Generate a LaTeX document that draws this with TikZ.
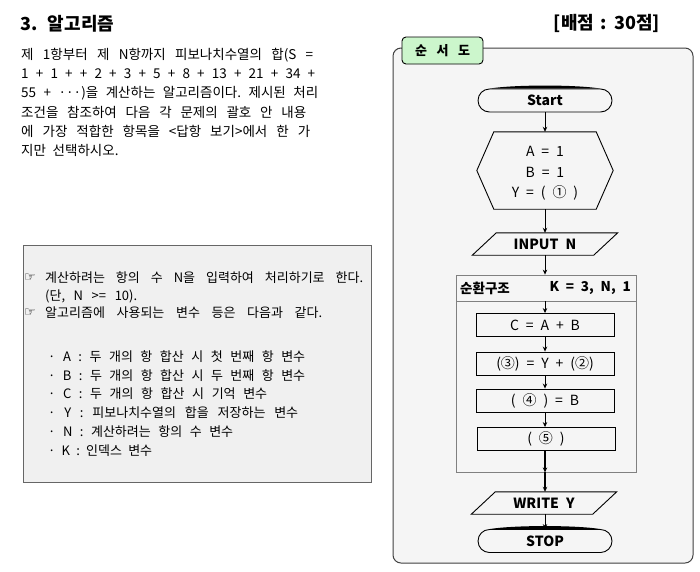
\documentclass[tikz,border=0pt]{standalone}
\usepackage{fontspec}
\setmainfont{Noto Sans CJK KR}[WordSpace=2.2]
\newfontfamily\symf{DejaVu Sans}
\usetikzlibrary{arrows.meta}
\newcommand\fsz[1]{\fontsize{#1}{#1}\selectfont}
\newcommand\jl[2]{\hbox to #1pt{\frenchspacing\spaceskip=0.25em plus 1fil\relax #2}}
\definecolor{tabgreen}{RGB}{204,246,204}
\begin{document}
\begin{tikzpicture}[x=1pt,y=-1pt,
  arr/.style={-{Stealth[length=5pt,width=4.5pt]}, line width=0.8pt},
  proc/.style={draw, line width=0.9pt, minimum width=138pt, minimum height=23pt, inner sep=0pt, font=\fsz{14}},
  term/.style={draw, line width=0.9pt, rounded corners=11.5pt, minimum width=134pt, minimum height=23pt, inner sep=0pt, font=\bfseries\fsz{14}},
  io/.style={minimum width=121pt, minimum height=22pt, inner sep=0pt, font=\bfseries\fsz{14}},
  para/.style={anchor=west, inner sep=0pt, font=\fsz{13.5}},
  cond/.style={anchor=west, inner sep=0pt, font=\fsz{13}}]
\useasboundingbox (0,0) rectangle (700,571);
\fill[white] (0,0) rectangle (700,571);
% title
\node[anchor=west, inner sep=0pt, font=\bfseries\fsz{18}] (title) at (20,24) {3. 알고리즘};
\node[anchor=east, inner sep=0pt, font=\bfseries\fsz{18}] (score) at (660,23) {\jl{106}{[배점 : 30점]}};
% paragraph
\node[para] (p1) at (21,55) {\jl{292}{제 1항부터 제 N항까지 피보나치수열의 합(S =}};
\node[para] (p2) at (21,74) {\jl{294}{1 + 1 + + 2 + 3 + 5 + 8 + 13 + 21 + 34 +}};
\node[para] (p3) at (21,93) {\jl{297}{55 + ···)을 계산하는 알고리즘이다. 제시된 처리}};
\node[para] (p4) at (21,112) {\jl{285}{조건을 참조하여 다음 각 문제의 괄호 안 내용}};
\node[para] (p5) at (21,131) {\jl{289}{에 가장 적합한 항목을 <답항 보기>에서 한 가}};
\node[para] (p6) at (21,150) {지만 선택하시오.};
% condition box
\draw[fill=gray!12, draw=black!60, line width=1pt] (23,245) rectangle (371,482);
\node[cond, font=\symf\fsz{13}] (h1) at (24,278) {☞};
\node[cond] (c1t) at (45,278) {\jl{318}{계산하려는 항의 수 N을 입력하여 처리하기로 한다.}};
\node[cond] (c2t) at (45,296) {\jl{92}{(단, N >= 10).}};
\node[cond, font=\symf\fsz{13}] (h2) at (24,313) {☞};
\node[cond] (c3t) at (45,313) {\jl{277}{알고리즘에 사용되는 변수 등은 다음과 같다.}};
\node[cond] (va) at (48,357) {\jl{257}{· A : 두 개의 항 합산 시 첫 번째 항 변수}};
\node[cond] (vb) at (48,376) {\jl{257}{· B : 두 개의 항 합산 시 두 번째 항 변수}};
\node[cond] (vc) at (48,394) {\jl{219}{· C : 두 개의 항 합산 시 기억 변수}};
\node[cond] (vy) at (48,413) {\jl{250}{· Y : 피보나치수열의 합을 저장하는 변수}};
\node[cond] (vn) at (48,432) {\jl{185}{· N : 계산하려는 항의 수 변수}};
\node[cond] (vk) at (48,451) {\jl{104}{· K : 인덱스 변수}};
% flowchart panel
\draw[fill=gray!8, draw=black!75, line width=1pt, rounded corners=8pt] (393,48) rectangle (693,563);
\node[draw=black, fill=tabgreen, line width=0.9pt, rounded corners=4pt, minimum width=81pt, minimum height=27pt, inner sep=0pt, font=\bfseries\fsz{13}] (tab) at (442.5,50.5) {\jl{55}{순 서 도}};
% nodes
\node[term] (start) at (545,100.5) {Start};
\fill ([xshift=12pt]start.north west) .. controls +(25,-4) and +(-25,-4) .. ([xshift=-12pt]start.north east) -- cycle;
\node[minimum width=136pt, minimum height=77pt, inner sep=0pt] (init) at (545,170.5) {};
\draw[line width=0.9pt] (init.west) -- ([xshift=17pt]init.north west) -- ([xshift=-17pt]init.north east) -- (init.east) -- ([xshift=-17pt]init.south east) -- ([xshift=17pt]init.south west) -- cycle;
\node[align=center, inner sep=0pt, font=\fontsize{14}{20.5}\selectfont] (initt) at (545,173.5) {A = 1\\B = 1\\Y = ( ① )};
\node[io] (inp) at (545,244) {INPUT N};
\draw[line width=0.9pt] ([xshift=-12pt]inp.south west) -- ([xshift=12pt]inp.north west) -- ([xshift=12pt]inp.north east) -- ([xshift=-12pt]inp.south east) -- cycle;
\node[draw=black!50, line width=0.8pt, minimum width=180pt, minimum height=197pt, inner sep=0pt] (loop) at (546,373.5) {};
\coordinate (hl) at (456,301);
\coordinate (hr) at (636,301);
\coordinate (hdr) at (545,301);
\draw[black!50, line width=0.8pt] (hl) -- (hr);
\node[anchor=west, inner sep=0pt, font=\bfseries\fsz{13.5}] (lname) at (460,288) {순환구조};
\node[anchor=east, inner sep=0pt, font=\bfseries\fsz{13.5}] (lrange) at (631,288) {K = 3, N, 1};
\node[proc] (s1) at (545,325) {C = A + B};
\node[proc] (s2) at (545,363.5) {(③) = Y + (②)};
\node[proc] (s3) at (545,400.5) {( ④ ) = B};
\node[proc] (s4) at (546,439) {( ⑤ )};
\node[io] (wr) at (544,503) {WRITE Y};
\draw[line width=0.9pt] ([xshift=-12pt]wr.south west) -- ([xshift=12pt]wr.north west) -- ([xshift=12pt]wr.north east) -- ([xshift=-12pt]wr.south east) -- cycle;
\node[term] (stop) at (545,541) {STOP};
\fill ([xshift=12pt]stop.north west) .. controls +(25,-4) and +(-25,-4) .. ([xshift=-12pt]stop.north east) -- cycle;
% arrows
\draw[arr] (start.south) -- (init.north);
\draw[arr] (init.south) -- (inp.north);
\draw[arr] (inp.south) -- (inp.south |- loop.north);
\draw[arr] (hdr) -- (s1.north);
\draw[arr] (s1.south) -- (s2.north);
\draw[arr] (s2.south) -- (s3.north);
\draw[arr] (s3.south) -- (s3.south |- s4.north);
\draw[arr, line width=1.2pt] (s3.south |- s4.south) -- (s3.south |- loop.south);
\draw[arr, line width=1.2pt] (s3.south |- loop.south) -- (s3.south |- wr.north);
\draw[arr] (s3.south |- wr.south) -- (stop.north);
\end{tikzpicture}
\end{document}
